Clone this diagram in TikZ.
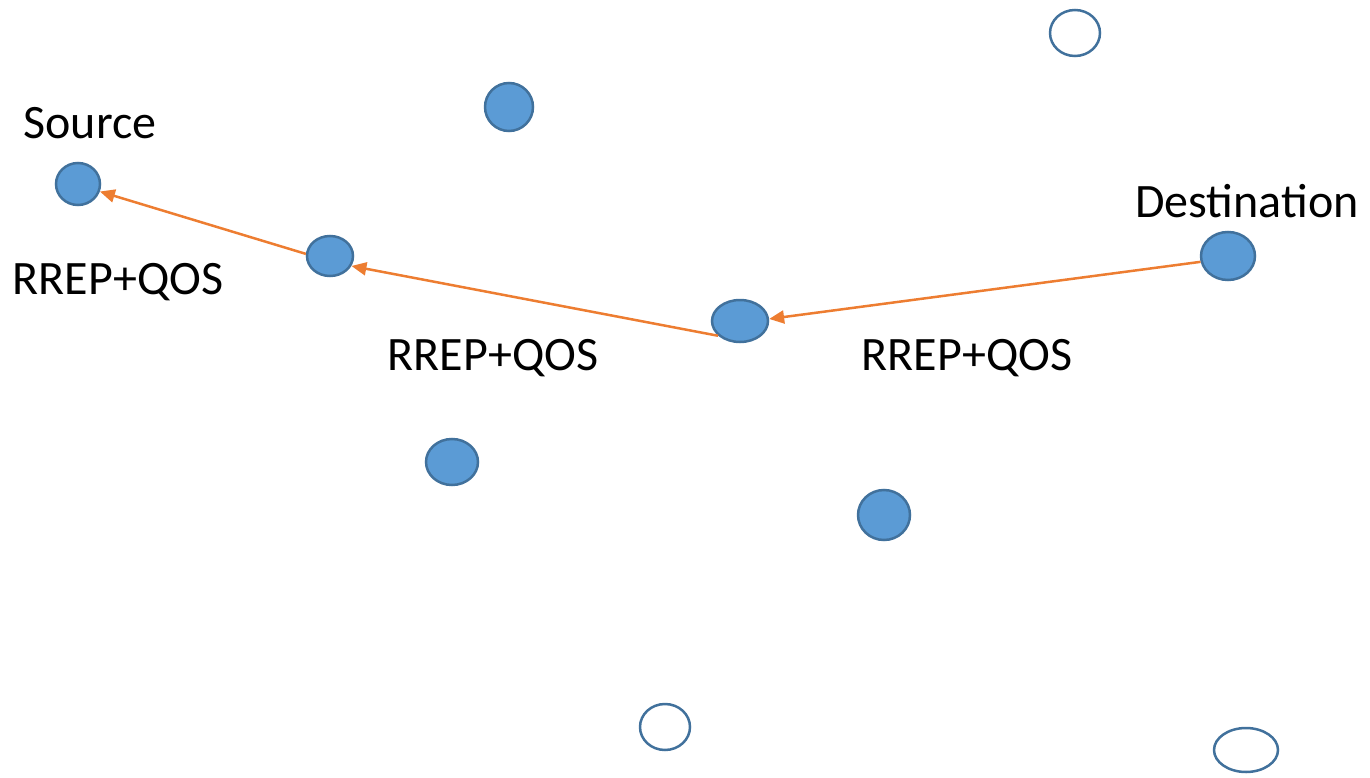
\documentclass[tikz,border=0pt]{standalone}
\usepackage{fontspec}
\setmainfont{Carlito}
\usetikzlibrary{shapes.geometric,arrows.meta}
\definecolor{nodefill}{HTML}{5B9BD5}
\definecolor{nodeline}{HTML}{41719C}
\definecolor{msg}{HTML}{ED7D31}
\tikzset{
  host/.style={ellipse, draw=nodeline, line width=2.5pt, inner sep=0pt},
  busy/.style={host, fill=nodefill},
  idle/.style={host, fill=white},
  lbl/.style={font=\fontsize{48}{58}\selectfont, inner sep=0pt},
  rrep/.style={draw=msg, line width=2.5pt, -{Triangle[length=15pt,width=13pt]}}
}
\begin{document}
\begin{tikzpicture}[x=1pt,y=-1pt]
  \useasboundingbox (0,0) rectangle (1370,778);
  % hosts on the reply path
  \node[busy, minimum width=44pt, minimum height=42pt] (src) at (78,184) {};
  \node[busy, minimum width=46pt, minimum height=40pt] (hop1) at (330,256) {};
  \node[busy, minimum width=56pt, minimum height=42pt] (hop2) at (740,321) {};
  \node[busy, minimum width=54pt, minimum height=48pt] (dst) at (1228,256) {};
  % other active hosts
  \node[busy, minimum width=48pt, minimum height=48pt] (n1) at (509,107) {};
  \node[busy, minimum width=52pt, minimum height=46pt] (n2) at (452,462) {};
  \node[busy, minimum width=52pt, minimum height=50pt] (n3) at (884,515) {};
  % idle hosts
  \node[idle, minimum width=50pt, minimum height=46pt] (e1) at (1075,33) {};
  \node[idle, minimum width=50pt, minimum height=46pt] (e2) at (665,727) {};
  \node[idle, minimum width=64pt, minimum height=44pt] (e3) at (1246,750) {};
  % labels
  \node[lbl] (lsrc) at (90,123) {Source};
  \node[lbl] (ldst) at (1247,201) {Destination};
  \node[lbl] (m1) at (118,282) {RREP+QOS};
  \node[lbl] (m2) at (493,358) {RREP+QOS};
  \node[lbl] (m3) at (967,358) {RREP+QOS};
  % route reply travelling back to the source
  \draw[rrep] (dst.192) -- (hop2.4);
  \draw[rrep] (hop2.214) -- (hop1.335);
  \draw[rrep] (hop1.175) -- (src.341);
\end{tikzpicture}
\end{document}
